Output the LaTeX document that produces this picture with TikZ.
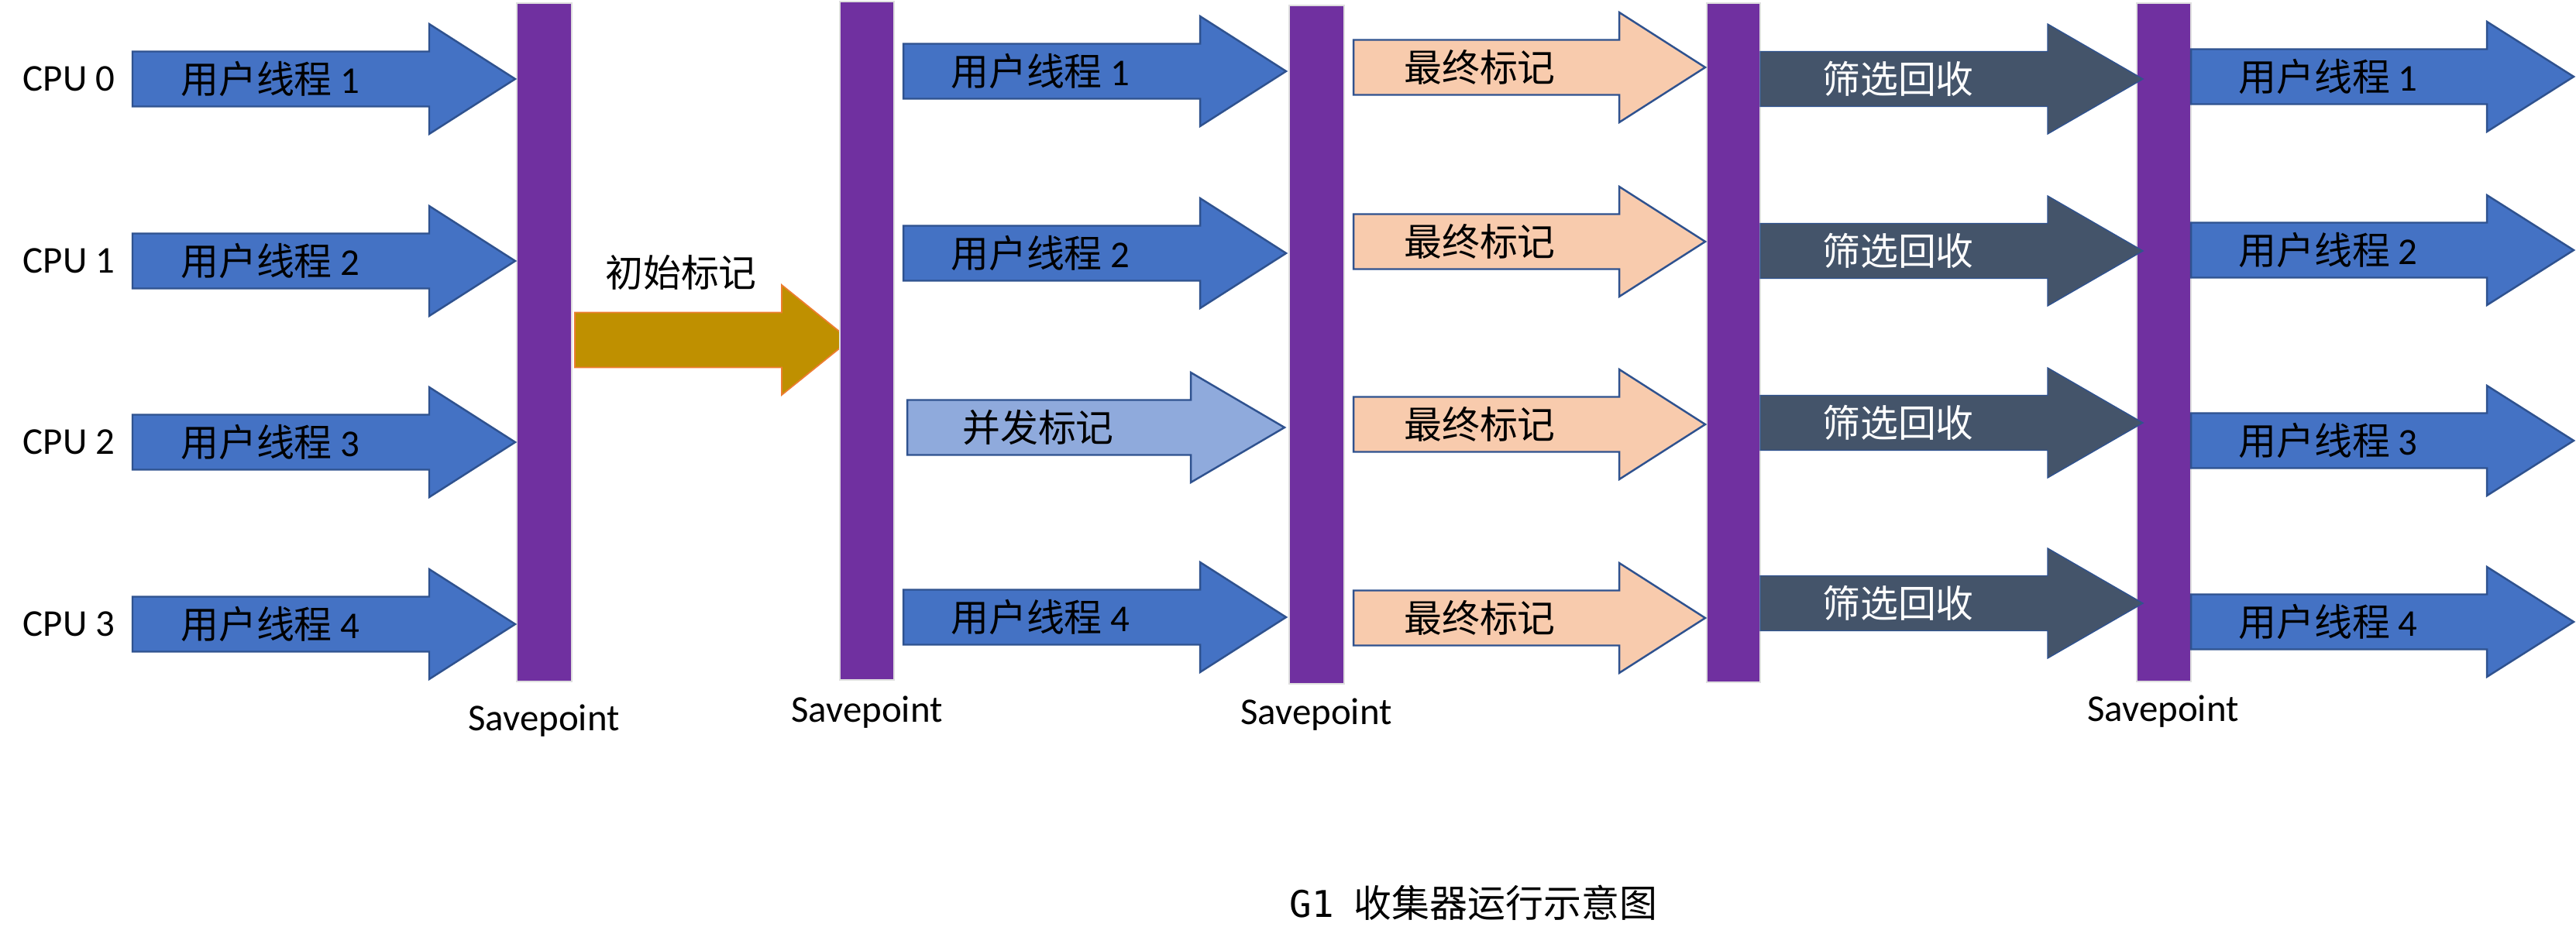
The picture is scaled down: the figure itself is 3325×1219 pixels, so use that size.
\documentclass[tikz,border=0pt]{standalone}
\usepackage{fontspec}
\setmainfont{Carlito}
\newfontfamily\cjk{Noto Sans CJK SC}
\newfontfamily\monofnt{DejaVu Sans Mono}
\definecolor{ublue}{HTML}{4472C4}
\definecolor{bord}{HTML}{2F528F}
\definecolor{barc}{HTML}{7030A0}
\definecolor{gold}{HTML}{BF9000}
\definecolor{orng}{HTML}{ED7D31}
\definecolor{lblue}{HTML}{8FAADC}
\definecolor{peach}{HTML}{F8CBAD}
\definecolor{slate}{HTML}{44546A}
% #1 body start x, #2 head start x, #3 tip x, #4 centre y, #5 style
\newcommand{\garrow}[5]{\path[#5] (#1,#4-35.5) -- (#2,#4-35.5) -- (#2,#4-71) -- (#3,#4) -- (#2,#4+71) -- (#2,#4+35.5) -- (#1,#4+35.5) -- cycle;}
\begin{document}
\begin{tikzpicture}[x=0.01cm,y=-0.01cm,
  txt/.style={font=\fontsize{13.9pt}{16pt}\selectfont, inner sep=0pt},
  wtxt/.style={txt, text=white},
  arrblue/.style={fill=ublue, draw=bord, line width=0.7pt, line join=miter},
  arrlight/.style={fill=lblue, draw=bord, line width=0.7pt, line join=miter},
  arrpeach/.style={fill=peach, draw=bord, line width=0.7pt, line join=miter},
  arrslate/.style={fill=slate, draw=bord, line width=0.4pt, line join=miter},
  arrgold/.style={fill=gold, draw=orng, line width=0.5pt, line join=miter},
  barstyle/.style={fill=barc, draw=gray!25, line width=0.4pt}
]
\fill[white] (0,0) rectangle (3325,1219);
\useasboundingbox (0,0) rectangle (3325,1219);

% initial-mark arrow (under savepoint bar 2)
\garrow{742}{1009}{1097}{439}{arrgold}

% savepoint bars
\path[barstyle] (667,4) rectangle (738,880);
\path[barstyle] (1084,2) rectangle (1154,878);
\path[barstyle] (1664,7) rectangle (1735,883);
\path[barstyle] (2203,4) rectangle (2272,881);
\path[barstyle] (2758,4) rectangle (2828,880);

% column 1: user threads
\garrow{171}{554}{665}{102}{arrblue}
\garrow{171}{554}{665}{337}{arrblue}
\garrow{171}{554}{665}{571}{arrblue}
\garrow{171}{554}{665}{806}{arrblue}

% column 2
\garrow{1166}{1549}{1660}{92}{arrblue}
\garrow{1166}{1549}{1660}{327}{arrblue}
\garrow{1171}{1537}{1658}{552}{arrlight}
\garrow{1166}{1549}{1660}{797}{arrblue}

% column 3: final mark
\garrow{1747}{2090}{2201}{87}{arrpeach}
\garrow{1747}{2090}{2201}{312}{arrpeach}
\garrow{1747}{2090}{2201}{548}{arrpeach}
\garrow{1747}{2090}{2201}{798}{arrpeach}

% column 4: evacuation
\garrow{2272}{2643}{2766}{102}{arrslate}
\garrow{2272}{2643}{2766}{324}{arrslate}
\garrow{2272}{2643}{2766}{546}{arrslate}
\garrow{2272}{2643}{2766}{779}{arrslate}

% column 5
\garrow{2828}{3210}{3322}{99}{arrblue}
\garrow{2828}{3210}{3322}{323}{arrblue}
\garrow{2828}{3210}{3322}{569}{arrblue}
\garrow{2828}{3210}{3322}{803}{arrblue}

% CPU labels
\node[txt,anchor=west] (cpu0) at (29,102) {CPU 0};
\node[txt,anchor=west] (cpu1) at (29,337) {CPU 1};
\node[txt,anchor=west] (cpu2) at (29,571) {CPU 2};
\node[txt,anchor=west] (cpu3) at (29,806) {CPU 3};

% arrow texts
\node[txt] (a11) at (349,102) {{\cjk 用户线程} 1};
\node[txt] (a12) at (349,337) {{\cjk 用户线程} 2};
\node[txt] (a13) at (349,571) {{\cjk 用户线程} 3};
\node[txt] (a14) at (349,806) {{\cjk 用户线程} 4};

\node[txt] (init) at (879,352) {\cjk 初始标记};

\node[txt] (a21) at (1343,92) {{\cjk 用户线程} 1};
\node[txt] (a22) at (1343,327) {{\cjk 用户线程} 2};
\node[txt] (a23) at (1340,552) {\cjk 并发标记};
\node[txt] (a24) at (1343,797) {{\cjk 用户线程} 4};

\node[txt] (a31) at (1910,87) {\cjk 最终标记};
\node[txt] (a32) at (1910,312) {\cjk 最终标记};
\node[txt] (a33) at (1910,548) {\cjk 最终标记};
\node[txt] (a34) at (1910,798) {\cjk 最终标记};

\node[wtxt] (a41) at (2450,102) {\cjk 筛选回收};
\node[wtxt] (a42) at (2450,324) {\cjk 筛选回收};
\node[wtxt] (a43) at (2450,546) {\cjk 筛选回收};
\node[wtxt] (a44) at (2450,779) {\cjk 筛选回收};

\node[txt] (a51) at (3005,99) {{\cjk 用户线程} 1};
\node[txt] (a52) at (3005,323) {{\cjk 用户线程} 2};
\node[txt] (a53) at (3005,569) {{\cjk 用户线程} 3};
\node[txt] (a54) at (3005,803) {{\cjk 用户线程} 4};

% savepoint labels
\node[txt,anchor=base] (s1) at (702,943) {Savepoint};
\node[txt,anchor=base] (s2) at (1119,932) {Savepoint};
\node[txt,anchor=base] (s3) at (1699,935) {Savepoint};
\node[txt,anchor=base] (s5) at (2792,931) {Savepoint};

% caption
\node[txt,anchor=base west] (cap) at (1664,1184) {{\monofnt\fontsize{13.5pt}{15pt}\selectfont G1}\hspace{0.26cm}{\cjk 收集器运行示意图}};
\end{tikzpicture}
\end{document}
